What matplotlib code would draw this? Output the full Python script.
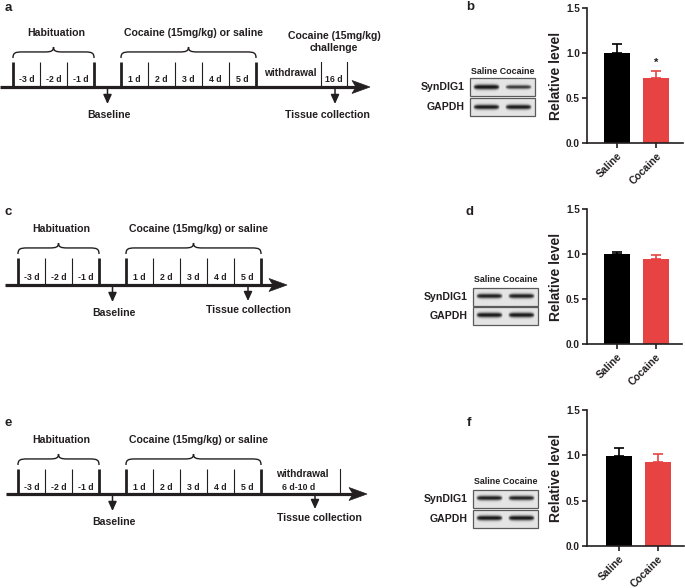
import numpy as np
import matplotlib
matplotlib.use("Agg")
import matplotlib.pyplot as plt
from matplotlib.path import Path
from matplotlib.patches import PathPatch, Polygon, Rectangle

plt.rcParams['font.family'] = ['Liberation Sans', 'DejaVu Sans']
plt.rcParams['font.weight'] = 'bold'

INK = '#231f20'
RED = '#e74343'

# ---- data ----
HAB_DAYS = ['-3 d', '-2 d', '-1 d']
COC_DAYS = ['1 d', '2 d', '3 d', '4 d', '5 d']
GROUPS = ['Saline', 'Cocaine']
Y_TICKS = [0.0, 0.5, 1.0, 1.5]

MEAN_B = [1.00, 0.72]
SEM_B = [0.095, 0.08]
MEAN_D = [1.00, 0.945]
SEM_D = [0.025, 0.045]
MEAN_F = [0.995, 0.93]
SEM_F = [0.09, 0.08]

# band strength per lane (Saline, Cocaine)
SYN_B = [1.0, 0.55]
GAP_B = [0.9, 0.9]
SYN_D = [0.85, 0.85]
GAP_D = [0.95, 0.95]
SYN_F = [0.85, 0.8]
GAP_F = [0.95, 0.95]

W, H = 685, 588
fig = plt.figure(figsize=(W / 100, H / 100), dpi=100)
ax0 = fig.add_axes([0, 0, 1, 1])
ax0.set_xlim(0, W)
ax0.set_ylim(H, 0)
ax0.axis('off')


def brace(x1, x2, yb, h):
    # curly brace opening downwards, ends at yb, tip at yb - h
    xm = (x1 + x2) / 2
    r = 9
    ym = yb - h * 0.55
    yt = yb - h
    verts = [(x1, yb), (x1, ym + 1), (x1 + 2, ym), (x1 + r, ym),
             (xm - r, ym),
             (xm - 2, ym), (xm, ym - 1), (xm, yt),
             (xm, ym - 1), (xm + 2, ym), (xm + r, ym),
             (x2 - r, ym),
             (x2 - 2, ym), (x2, ym + 1), (x2, yb)]
    codes = [Path.MOVETO, Path.CURVE4, Path.CURVE4, Path.CURVE4,
             Path.LINETO,
             Path.CURVE4, Path.CURVE4, Path.CURVE4,
             Path.CURVE4, Path.CURVE4, Path.CURVE4,
             Path.LINETO,
             Path.CURVE4, Path.CURVE4, Path.CURVE4]
    ax0.add_patch(PathPatch(Path(verts, codes), fc='none', ec=INK, lw=1.0))


def down_arrow(x, y1, y2):
    ax0.annotate('', xy=(x, y2), xytext=(x, y1),
                 arrowprops=dict(arrowstyle='-|>,head_width=0.25,head_length=0.55',
                                 lw=1.1, color=INK, shrinkA=0, shrinkB=0))


def timeline(y, xs, xe, first, top, extra_ticks):
    step = 27
    ax0.plot([xs, xe - 12], [y, y], color=INK, lw=2.3, solid_capstyle='butt')
    ax0.add_patch(Polygon([(xe, y), (xe - 18, y - 6.5), (xe - 14, y), (xe - 18, y + 6.5)],
                          closed=True, fc=INK, ec=INK, lw=0.5))
    hab = [first + i * step for i in range(len(HAB_DAYS) + 1)]
    coc_start = hab[-1] + step
    coc = [coc_start + i * step for i in range(len(COC_DAYS) + 1)]
    for ticks, labels in ((hab, HAB_DAYS), (coc, COC_DAYS)):
        for i, x in enumerate(ticks):
            thick = i == 0 or i == len(ticks) - 1
            ax0.plot([x, x], [y, top], color=INK, lw=2.0 if thick else 0.8,
                     solid_capstyle='butt')
        for i, lab in enumerate(labels):
            ax0.text((ticks[i] + ticks[i + 1]) / 2, y - 7, lab, ha='center', va='center',
                     fontsize=6.3, color=INK, fontweight='bold')
    for x in extra_ticks:
        ax0.plot([x, x], [y, top], color=INK, lw=0.8)
    brace(hab[0], hab[-1], top - 4, 11)
    brace(coc[0], coc[-1], top - 4, 11)
    ax0.text((hab[0] + hab[-1]) / 2 + 3, top - 29, 'Habituation', ha='center', va='center',
             fontsize=7.6, color=INK, fontweight='bold')
    ax0.text((coc[0] + coc[-1]) / 2 + 5, top - 29, 'Cocaine (15mg/kg) or saline',
             ha='center', va='center', fontsize=7.6, color=INK, fontweight='bold')
    bx = (hab[-1] + coc[0]) / 2
    down_arrow(bx, y + 1.5, y + 17)
    ax0.text(bx + 1, y + 28, 'Baseline', ha='center', va='center', fontsize=7.6,
             color=INK, fontweight='bold')
    return coc[-1]


# panel a
end_a = timeline(87, 0, 370, 13, 62, [321, 347])
ax0.text(290, 73, 'withdrawal', ha='center', va='center', fontsize=7.3, color=INK)
ax0.text(334, 80, '16 d', ha='center', va='center', fontsize=6.3, color=INK)
ax0.text(334, 42, 'Cocaine (15mg/kg)\nchallenge', ha='center', va='center', fontsize=7.6,
         color=INK, linespacing=1.15)
down_arrow(335, 88.5, 104)
ax0.text(327, 115, 'Tissue collection', ha='center', va='center', fontsize=7.6, color=INK)

# panel c
end_c = timeline(285, 5, 287, 18, 258, [])
down_arrow(248, 286.5, 301)
ax0.text(248, 310, 'Tissue collection', ha='center', va='center', fontsize=7.6, color=INK)

# panel e
end_e = timeline(494, 6, 367, 18, 469, [340])
ax0.text(302, 474, 'withdrawal', ha='center', va='center', fontsize=7.3, color=INK)
ax0.text(299, 487, '6 d-10 d', ha='center', va='center', fontsize=6.3, color=INK)
down_arrow(315, 495.5, 509)
ax0.text(319, 518, 'Tissue collection', ha='center', va='center', fontsize=7.6, color=INK)

# panel letters
for lab, x, y in (('a', 8, 8), ('c', 8, 212), ('e', 8, 423),
                  ('b', 470, 7), ('d', 470, 212), ('f', 469, 423)):
    ax0.text(x, y, lab, ha='center', va='center', fontsize=9.5, color=INK, fontweight='bold')


def blot(x0, x1, row_tops, row_h, syn, gap, header_y):
    ax0.text((x0 + x1) / 2, header_y, 'Saline Cocaine', ha='center', va='center',
             fontsize=6.4, color=INK)
    for top, name, lanes in zip(row_tops, ('SynDIG1', 'GAPDH'), (syn, gap)):
        ax0.add_patch(Rectangle((x0, top), x1 - x0, row_h, fc='#e4e4e4', ec='#5a5a5a',
                                lw=0.9, zorder=2))
        ax0.text(x0 - 5, top + row_h / 2 + 0.5, name, ha='right', va='center',
                 fontsize=7.6, color=INK, zorder=3)
        lane_w = (x1 - x0) / 2
        for i, s in enumerate(lanes):
            lx0 = x0 + i * lane_w + 3
            lx1 = x0 + (i + 1) * lane_w - 3
            nx, ny = 60, 30
            u = np.linspace(-1, 1, nx)
            v = np.linspace(-1, 1, ny)
            uu, vv = np.meshgrid(u, v)
            thick = 0.17 + 0.15 * s
            prof = np.exp(-(vv / (thick * (1 - 0.45 * uu ** 6))) ** 2) * (1 - uu ** 10)
            img = np.zeros((ny, nx, 4))
            img[..., :3] = 0.08
            img[..., 3] = np.clip(prof * (0.6 + 0.45 * s), 0, 1)
            ax0.imshow(img, extent=(lx0, lx1, top + row_h - 1, top + 1), origin='upper',
                       aspect='auto', interpolation='bilinear', zorder=3)
    ax0.set_xlim(0, W)
    ax0.set_ylim(H, 0)


blot(470, 535, [78, 98], 18, SYN_B, GAP_B, 71)
blot(473, 538, [288, 307], 17.5, SYN_D, GAP_D, 280)
blot(473, 538, [490, 510], 17.5, SYN_F, GAP_F, 481)


def px_axes(left, top, right, bottom):
    return fig.add_axes([left / W, 1 - bottom / H, (right - left) / W, (bottom - top) / H])


def bars(rect, xlim, means, sems, star=False):
    ax = px_axes(*rect)
    x = np.arange(len(GROUPS))
    colors = ['black', RED]
    ax.bar(x, means, width=0.67, color=colors, edgecolor='none', zorder=2)
    for xi, m, s, c in zip(x, means, sems, colors):
        ax.errorbar([xi], [m], yerr=[[0], [s]], fmt='none', ecolor=c, elinewidth=1.2,
                    capsize=3.8, capthick=1.2, zorder=3)
    if star:
        ax.text(x[1], means[1] + sems[1] + 0.03, '*', ha='center', va='bottom',
                fontsize=8, color=INK)
    ax.set_xlim(*xlim)
    ax.set_ylim(0, 1.5)
    ax.set_yticks(Y_TICKS)
    ax.set_yticklabels(['%.1f' % t for t in Y_TICKS])
    ax.set_xticks(x)
    ax.set_xticklabels(GROUPS, rotation=45, ha='right', rotation_mode='anchor',
                       fontsize=7.5)
    for sp in ('top', 'right'):
        ax.spines[sp].set_visible(False)
    for sp in ('left', 'bottom'):
        ax.spines[sp].set_linewidth(1.2)
        ax.spines[sp].set_color(INK)
    ax.tick_params(axis='both', length=3.5, width=1.2, colors=INK, pad=1.5)
    ax.tick_params(axis='y', labelsize=7.2)
    ax.tick_params(axis='x', pad=2)
    ax.set_ylabel('Relative level', fontsize=10, fontweight='bold', color=INK, labelpad=2)
    ax.patch.set_alpha(0)
    return ax


bars((587, 8, 683, 143), (-0.77, 1.69), MEAN_B, SEM_B, star=True)
bars((587, 209, 682, 344), (-0.77, 1.67), MEAN_D, SEM_D)
bars((587, 410, 684, 546), (-0.82, 1.67), MEAN_F, SEM_F)

fig.savefig('out.png', dpi=100)
